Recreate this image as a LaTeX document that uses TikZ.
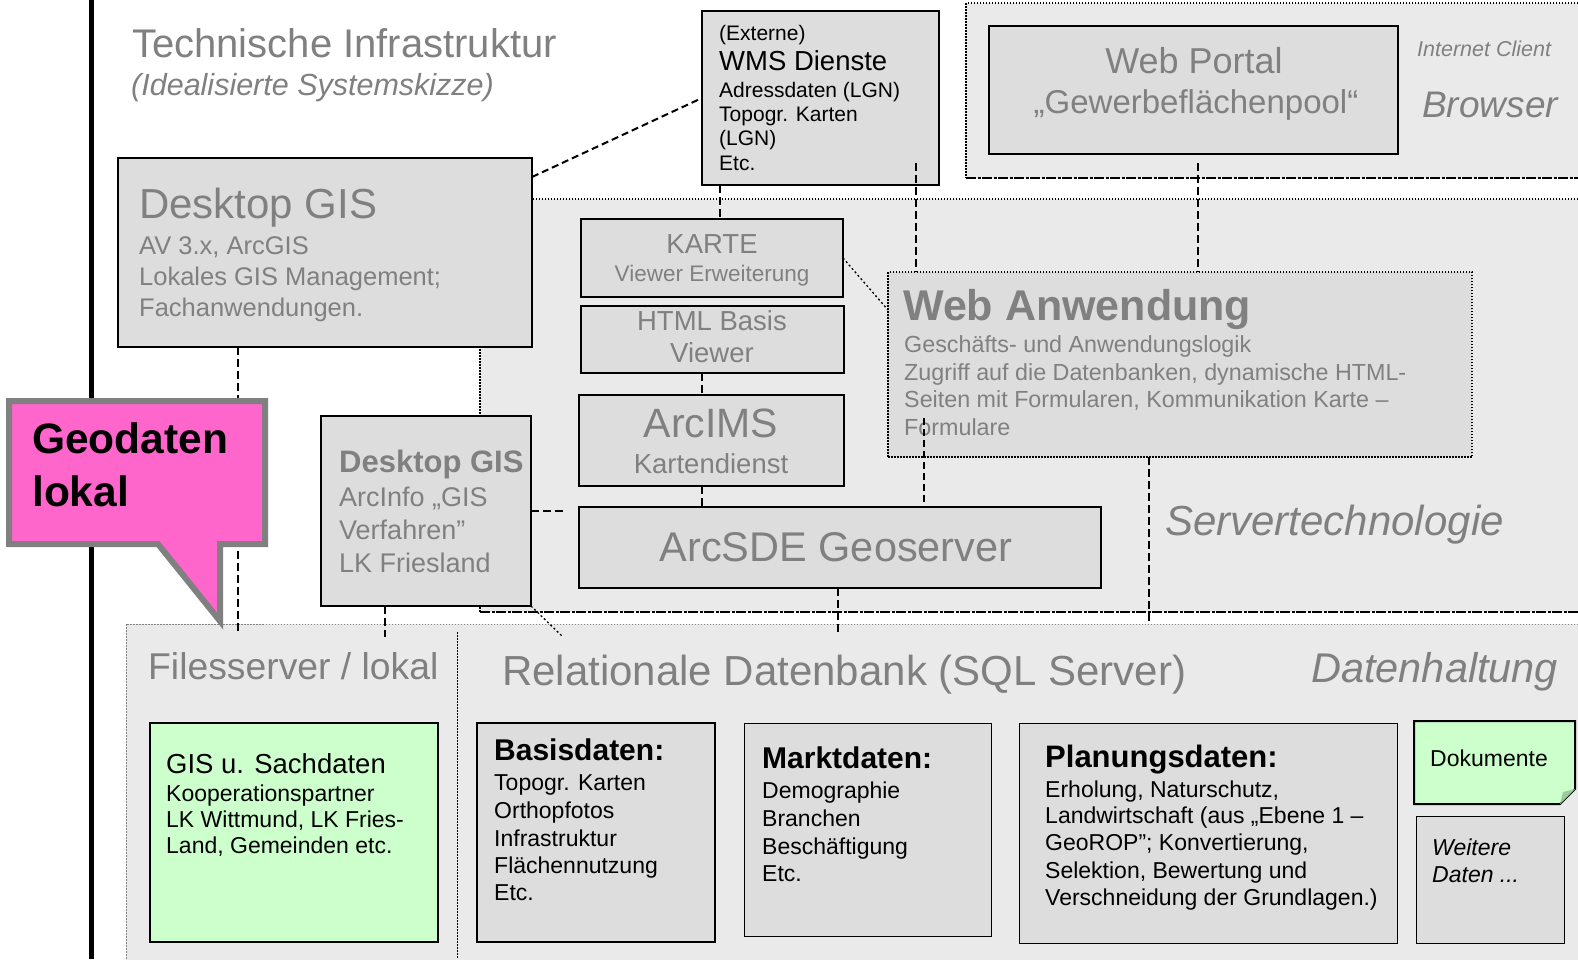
\documentclass[tikz,border=0pt]{standalone}
\usepackage{fontspec}
\setmainfont{Liberation Sans}
\usetikzlibrary{calc}
\definecolor{txtgray}{HTML}{808080}
\definecolor{boxgray}{HTML}{DDDDDD}
\definecolor{regiongray}{HTML}{EAEAEA}
\definecolor{lgreen}{HTML}{CCFFCC}
\definecolor{dgreen}{HTML}{99CC99}
\definecolor{calloutpink}{HTML}{FF66CC}
\newcommand\fsz[1]{\fontsize{#1}{#1}\selectfont}
\begin{document}
\begin{tikzpicture}[x=1pt,y=-1pt,
  box/.style={draw=black, line width=2pt, fill=boxgray, inner sep=0pt, outer sep=0pt, anchor=north west},
  thinbox/.style={box, line width=1pt},
  dotbox/.style={box, line width=1.2pt, dash pattern=on 1.5pt off 1.5pt},
  region/.style={fill=regiongray, inner sep=0pt, outer sep=0pt, anchor=north west},
  tl/.style={anchor=base west, inner sep=0pt, text=txtgray},
  tc/.style={anchor=base, inner sep=0pt, text=txtgray},
  bl/.style={anchor=base west, inner sep=0pt, text=black},
  conn/.style={draw=black, line width=2.2pt, dash pattern=on 8pt off 4pt},
  thinconn/.style={draw=black, line width=1.3pt, dash pattern=on 7pt off 4pt},
  dotconn/.style={draw=black, line width=1.3pt, dash pattern=on 2pt off 2.5pt},
  dotline/.style={draw=black, line width=1.2pt, dash pattern=on 1.5pt off 1.5pt},
  greydot/.style={draw=txtgray, line width=1pt, dash pattern=on 1.5pt off 1.5pt},
  heavydash/.style={draw=black, line width=2.6pt, dash pattern=on 10pt off 1.5pt on 3pt off 1.5pt}
]
\useasboundingbox (0,0) rectangle (1578,959);
\clip (0,0) rectangle (1578,959);
\fill[white] (0,0) rectangle (1578,959);

% ---------- regions ----------
\node[region, minimum width=630pt, minimum height=175pt] (inet) at (966,3) {};
\draw[dotline] (inet.north east) -- (inet.north west) -- (inet.south west);
\draw[heavydash] (inet.south west) -- (inet.south east);

\node[region, minimum width=1110pt, minimum height=413pt] (srv) at (480,199) {};
\draw[dotline] (srv.north east) -- (srv.north west) -- (srv.south west);
\draw[heavydash] (srv.south west) -- (srv.south east);

\node[region, minimum width=1470pt, minimum height=350pt] (dh) at (126,624) {};
\draw[greydot] (dh.north east) -- (dh.north west) -- (dh.south west);
\coordinate (sepTop) at (457,632);
\coordinate (sepBot) at (457,959);
\draw[dotline, line width=1pt] (sepTop) -- (sepBot);

% black vertical rule
\draw[line width=5pt] (91.5,0) -- (91.5,959);

% ---------- title ----------
\node[tl] (title) at (132,57) {\fsz{40}Technische Infrastruktur};
\node[tl] (subtitle) at (131,95) {\fsz{30.5}\itshape (Idealisierte Systemskizze)};

% ---------- boxes ----------
\node[box, minimum width=414pt, minimum height=189pt] (desk) at (118,158) {};
\node[tl] (deskT) at (139,218) {\fsz{42}Desktop GIS};
\node[tl] (deskA) at (139,254) {\fsz{25.5}AV 3.x, ArcGIS};
\node[tl] (deskB) at (139,285) {\fsz{25.5}Lokales GIS Management;};
\node[tl] (deskC) at (139,316) {\fsz{25.5}Fachanwendungen.};

\node[box, minimum width=237pt, minimum height=174pt] (wms) at (702,11) {};
\node[bl] (wmsA) at (719,40) {\fsz{21}(Externe)};
\node[bl] (wmsB) at (719,70) {\fsz{27.5}WMS Dienste};
\node[bl] (wmsC) at (719,97) {\fsz{21}Adressdaten (LGN)};
\node[bl] (wmsD) at (719,121) {\fsz{21}Topogr. Karten};
\node[bl] (wmsE) at (719,145) {\fsz{21}(LGN)};
\node[bl] (wmsF) at (719,170) {\fsz{21}Etc.};

\node[box, minimum width=409pt, minimum height=128pt] (portal) at (989,26) {};
\node[tc] (portalA) at (1194,73) {\fsz{36}Web Portal};
\node[tc] (portalB) at (1196,113) {\fsz{33}„Gewerbeflächenpool“};
\node[tl] (inetA) at (1417,56) {\fsz{21.5}\itshape Internet Client};
\node[tl] (inetB) at (1422,117) {\fsz{37}\itshape Browser};

\node[box, minimum width=262pt, minimum height=78pt] (karte) at (581,219) {};
\node[tc] (karteA) at (712,253) {\fsz{27.5}KARTE};
\node[tc] (karteB) at (712,281) {\fsz{22.5}Viewer Erweiterung};

\node[box, minimum width=263pt, minimum height=67pt] (html) at (581,306) {};
\node[tc] (htmlA) at (712,330) {\fsz{27.5}HTML Basis};
\node[tc] (htmlB) at (712,362) {\fsz{27.5}Viewer};

\node[box, minimum width=265pt, minimum height=91pt] (ims) at (579,395) {};
\node[tc] (imsA) at (711,437) {\fsz{41}ArcIMS};
\node[tc] (imsB) at (711,473) {\fsz{27.5}Kartendienst};

\node[box, minimum width=522pt, minimum height=81pt] (sde) at (579,507) {};
\node[tc] (sdeA) at (836,561) {\fsz{41.5}ArcSDE Geoserver};

\node[dotbox, minimum width=584pt, minimum height=185pt] (webanw) at (888,272) {};
\node[tl] (webA) at (903,320) {\fsz{43}\bfseries Web Anwendung};
\node[tl] (webB) at (904,352) {\fsz{23.3}Geschäfts- und Anwendungslogik};
\node[tl] (webC) at (904,380) {\fsz{23.3}Zugriff auf die Datenbanken, dynamische HTML-};
\node[tl] (webD) at (904,407) {\fsz{23.3}Seiten mit Formularen, Kommunikation Karte –};
\node[tl] (webE) at (904,435) {\fsz{23.3}Formulare};

\node[tl] (srvT) at (1165,535) {\fsz{42}\itshape Servertechnologie};

\node[box, minimum width=210pt, minimum height=190pt] (desk2) at (321,416) {};
\node[tl] (desk2A) at (339,472) {\fsz{31}\bfseries Desktop GIS};
\node[tl] (desk2B) at (339,506) {\fsz{27}ArcInfo „GIS};
\node[tl] (desk2C) at (339,539) {\fsz{27}Verfahren”};
\node[tl] (desk2D) at (339,572) {\fsz{27}LK Friesland};

% ---------- Datenhaltung ----------
\node[tl] (fsT) at (148,679) {\fsz{37.3}Filesserver / lokal};
\node[tl] (rdbT) at (502,685) {\fsz{42}Relationale Datenbank (SQL Server)};
\node[tl] (dhT) at (1311,682) {\fsz{41.5}\itshape Datenhaltung};

\node[box, fill=lgreen, minimum width=288pt, minimum height=219pt] (gis) at (150,723) {};
\node[bl] (gisA) at (166,773) {\fsz{27.5}GIS u. Sachdaten};
\node[bl] (gisB) at (166,801) {\fsz{23}Kooperationspartner};
\node[bl] (gisC) at (166,827) {\fsz{23}LK Wittmund, LK Fries-};
\node[bl] (gisD) at (166,853) {\fsz{23}Land, Gemeinden etc.};

\node[box, minimum width=238pt, minimum height=219pt] (basis) at (477,723) {};
\node[bl] (basisT) at (494,760) {\fsz{30}\bfseries Basisdaten:};
\node[bl] (basisA) at (494,790) {\fsz{23}Topogr. Karten};
\node[bl] (basisB) at (494,818) {\fsz{23}Orthopfotos};
\node[bl] (basisC) at (494,846) {\fsz{23}Infrastruktur};
\node[bl] (basisD) at (494,873) {\fsz{23}Flächennutzung};
\node[bl] (basisE) at (494,900) {\fsz{23}Etc.};

\node[thinbox, minimum width=247pt, minimum height=213pt] (markt) at (744,723) {};
\node[bl] (marktT) at (762,768) {\fsz{30}\bfseries Marktdaten:};
\node[bl] (marktA) at (762,798) {\fsz{23}Demographie};
\node[bl] (marktB) at (762,826) {\fsz{23}Branchen};
\node[bl] (marktC) at (762,854) {\fsz{23}Beschäftigung};
\node[bl] (marktD) at (762,881) {\fsz{23}Etc.};

\node[thinbox, minimum width=378pt, minimum height=220pt] (plan) at (1019,723) {};
\node[bl] (planT) at (1045,767) {\fsz{31}\bfseries Planungsdaten:};
\node[bl] (planA) at (1045,797) {\fsz{23}Erholung, Naturschutz,};
\node[bl] (planB) at (1045,823) {\fsz{23}Landwirtschaft (aus „Ebene 1 –};
\node[bl] (planC) at (1045,850) {\fsz{23}GeoROP”; Konvertierung,};
\node[bl] (planD) at (1045,878) {\fsz{23}Selektion, Bewertung und};
\node[bl] (planE) at (1045,905) {\fsz{23}Verschneidung der Grundlagen.)};

\draw[line width=2pt, fill=lgreen] (1414,721) -- (1575,721) -- (1575,789) -- (1560,804) -- (1414,804) -- cycle;
\fill[dgreen] (1575,789) -- (1560,804) -- (1563,792) -- cycle;
\node[bl] (dokA) at (1430,766) {\fsz{23}Dokumente};

\node[thinbox, minimum width=148pt, minimum height=127pt] (weit) at (1416,816) {};
\node[bl] (weitA) at (1432,855) {\fsz{23}\itshape Weitere};
\node[bl] (weitB) at (1432,882) {\fsz{23}\itshape Daten ...};

% ---------- connectors ----------
\coordinate (e1) at (238,632);
\coordinate (e2) at (385,637);
\coordinate (e3) at (564,511);
\coordinate (e4) at (563,637);
\coordinate (x720) at (720,0);
\coordinate (e6) at (916,163);
\coordinate (e7) at (1198,163);
\coordinate (y258) at (0,258);
\coordinate (y310) at (0,310);
\coordinate (x702) at (702,0);
\coordinate (e11) at (924,418);
\coordinate (e12) at (1149,624);
\coordinate (e13) at (838,633);
\coordinate (y177) at (0,177);
\coordinate (y98) at (0,98);

\draw[conn] (desk.south -| e1) -- (e1);
\draw[conn] (desk2.south -| e2) -- (e2);
\draw[conn] (desk2.east |- e3) -- (e3);
\draw[dotconn] (desk2.south east) -- (e4);
\draw[conn] (wms.south -| x720) -- (karte.north -| x720);
\draw[conn] (e6) -- (webanw.north -| e6);
\draw[conn] (e7) -- (webanw.north -| e7);
\draw[dotconn] (karte.east |- y258) -- (webanw.west |- y310);
\draw[conn] (html.south -| x702) -- (ims.north -| x702);
\draw[conn] (ims.south -| x702) -- (sde.north -| x702);
\draw[thinconn] (e11) -- (sde.north -| e11);
\draw[conn] (webanw.south -| e12) -- (e12);
\draw[conn] (sde.south -| e13) -- (e13);
\draw[conn, line width=2pt, dash pattern=on 7pt off 4pt] (desk.east |- y177) -- (wms.west |- y98);

% ---------- callout ----------
\draw[line width=6pt, draw=txtgray, fill=calloutpink, line join=miter]
  (9,401) -- (265,401) -- (265,544) -- (220,544) -- (220,621) -- (158,544) -- (9,544) -- cycle;
\node[bl] (geoA) at (32,453) {\fsz{42.5}\bfseries Geodaten};
\node[bl] (geoB) at (32,506) {\fsz{42.5}\bfseries lokal};

\end{tikzpicture}
\end{document}
